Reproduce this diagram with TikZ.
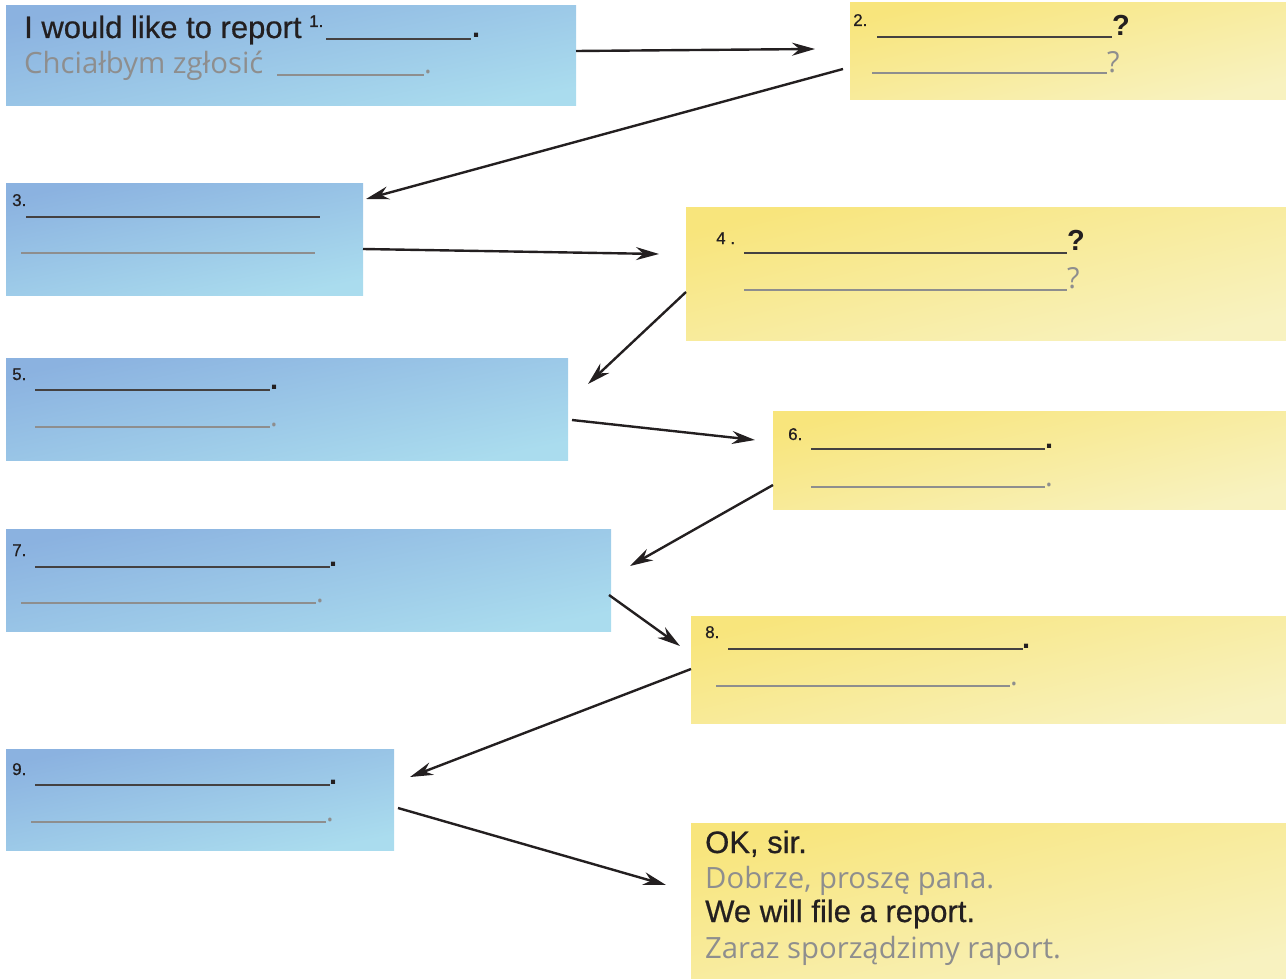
\documentclass[tikz,border=0pt]{standalone}
\usepackage{fontspec}
\setmainfont{Liberation Sans}
\newfontfamily\medfont[FakeBold=0.6]{Liberation Sans}
\newfontfamily\gryfont{Open Sans}
\usetikzlibrary{arrows.meta,calc}
\definecolor{blueA}{HTML}{8BB2E0}
\definecolor{blueB}{HTML}{AADCEE}
\definecolor{yelA}{HTML}{F8E57C}
\definecolor{yelB}{HTML}{F8F2C0}
\definecolor{txtblk}{HTML}{231F20}
\definecolor{txtgry}{HTML}{8E8E8E}
\tikzset{
  bluebox/.style={rectangle, inner sep=0pt, outer sep=0pt, anchor=north west, top color=blueA, bottom color=blueB, shading angle=12},
  yelbox/.style={rectangle, inner sep=0pt, outer sep=0pt, anchor=north west, top color=yelA, bottom color=yelB, shading angle=14},
  maintxt/.style={anchor=base west, inner sep=0pt, text=txtblk, font=\medfont\fontsize{31}{36}\selectfont},
  grytxt/.style={anchor=base west, inner sep=0pt, text=txtgry, font=\gryfont\fontsize{29.3}{34}\selectfont},
  numtxt/.style={anchor=base west, inner sep=0pt, text=txtblk, font=\medfont\fontsize{17}{18}\selectfont},
  blankblk/.style={draw=txtblk!85, line width=1.8pt},
  blankgry/.style={draw=txtgry, line width=1.8pt},
  qblk/.style={anchor=base west, inner sep=0pt, text=txtblk, font=\bfseries\fontsize{29}{34}\selectfont},
  qgry/.style={anchor=base west, inner sep=0pt, text=txtgry, font=\gryfont\fontsize{29}{34}\selectfont},
  conn/.style={draw=txtblk, line width=2.4pt, -{Stealth[length=23pt,width=13pt]}}
}
\begin{document}
\begin{tikzpicture}[x=1pt,y=-1pt]
\useasboundingbox (0,0) rectangle (1286,979);
% boxes
\node[bluebox, minimum width=570pt, minimum height=100pt] (b1) at (6,6) {};
\node[yelbox, minimum width=436pt, minimum height=97pt] (b2) at (850,3) {};
\node[bluebox, minimum width=357pt, minimum height=111pt] (b3) at (6,184) {};
\node[yelbox, minimum width=600pt, minimum height=132pt] (b4) at (686,208) {};
\node[bluebox, minimum width=562pt, minimum height=102pt] (b5) at (6,358) {};
\node[yelbox, minimum width=513pt, minimum height=98pt] (b6) at (773,411) {};
\node[bluebox, minimum width=605pt, minimum height=102pt] (b7) at (6,529) {};
\node[yelbox, minimum width=595pt, minimum height=107pt] (b8) at (691,616) {};
\node[bluebox, minimum width=388pt, minimum height=101pt] (b9) at (6,749) {};
\node[yelbox, minimum width=595pt, minimum height=156pt] (b10) at (691,823) {};

% box 1
\node[maintxt] (t1) at (24,38) {I would like to report};
\node[numtxt] (s1) at (309,27) {1.};
\draw[blankblk] (326,39) -- (471,39);
\node[qblk] (t1d) at (472,38) {.};
\node[grytxt] (t1p) at (24,74) {Chciałbym zgłosić};
\draw[blankgry] (277,75) -- (424,75);
\node[qgry] (t1pd) at (424,74) {.};

% box 2
\node[numtxt] (n2) at (853,26) {2.};
\draw[blankblk] (877,37) -- (1112,37);
\node[qblk] (q2) at (1112,36) {?};
\draw[blankgry] (872,73) -- (1107,73);
\node[qgry] (q2g) at (1107,73) {?};

% box 3
\node[numtxt] (n3) at (12,206) {3.};
\draw[blankblk] (26,217) -- (320,217);
\draw[blankgry] (21,253) -- (315,253);

% box 4
\node[numtxt] (n4) at (716,244) {4 .};
\draw[blankblk] (744,253) -- (1067,253);
\node[qblk] (q4) at (1067,251) {?};
\draw[blankgry] (744,290) -- (1067,290);
\node[qgry] (q4g) at (1067,288) {?};

% box 5
\node[numtxt] (n5) at (12,380) {5.};
\draw[blankblk] (35,390) -- (270,390);
\node[qblk] (d5) at (270,389) {.};
\draw[blankgry] (35,427) -- (270,427);
\node[qgry] (d5g) at (270,426) {.};

% box 6
\node[numtxt] (n6) at (788,440) {6.};
\draw[blankblk] (811,449) -- (1045,449);
\node[qblk] (d6) at (1045,448) {.};
\draw[blankgry] (811,487) -- (1045,487);
\node[qgry] (d6g) at (1045,486) {.};

% box 7
\node[numtxt] (n7) at (12,556) {7.};
\draw[blankblk] (35,567) -- (330,567);
\node[qblk] (d7) at (329,566) {.};
\draw[blankgry] (21,603) -- (316,603);
\node[qgry] (d7g) at (316,602) {.};

% box 8
\node[numtxt] (n8) at (705,638) {8.};
\draw[blankblk] (728,649) -- (1023,649);
\node[qblk] (d8) at (1022,648) {.};
\draw[blankgry] (716,686) -- (1010,686);
\node[qgry] (d8g) at (1010,685) {.};

% box 9
\node[numtxt] (n9) at (12,775) {9.};
\draw[blankblk] (35,785) -- (330,785);
\node[qblk] (d9) at (329,784) {.};
\draw[blankgry] (31,822) -- (326,822);
\node[qgry] (d9g) at (326,821) {.};

% box 10
\node[maintxt] (t10a) at (705,853) {OK, sir.};
\node[grytxt] (t10b) at (705,888) {Dobrze, proszę pana.};
\node[maintxt] (t10c) at (705,922) {We will file a report.};
\node[grytxt] (t10d) at (705,958) {Zaraz sporządzimy raport.};

% connectors
\draw[conn] ($(b1.north east)+(0,45)$) -- ($(b2.north west)+(-35,46)$);
\draw[conn] ($(b2.north west)+(-7,66)$) -- ($(b3.north east)+(3,15)$);
\draw[conn] ($(b3.north east)+(0,65)$) -- ($(b4.north west)+(-27,46)$);
\draw[conn] ($(b4.north west)+(0,84)$) -- ($(b5.north east)+(20,26)$);
\draw[conn] ($(b5.north east)+(4,62)$) -- ($(b6.north west)+(-18,29)$);
\draw[conn] ($(b6.north west)+(0,74)$) -- ($(b7.north east)+(19,37)$);
\draw[conn] ($(b7.north east)+(-2,66)$) -- ($(b8.north west)+(-11,30)$);
\draw[conn] ($(b8.north west)+(0,53)$) -- ($(b9.north east)+(16,28)$);
\draw[conn] ($(b9.north east)+(4,59)$) -- ($(b10.north west)+(-25,62)$);
\end{tikzpicture}
\end{document}
